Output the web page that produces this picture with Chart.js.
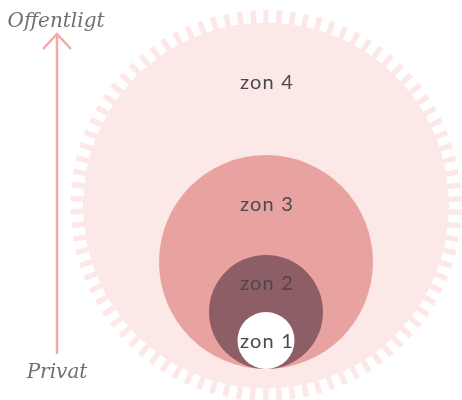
<!DOCTYPE html>
<html>
<head>
<meta charset="utf-8">
<script src="https://cdn.jsdelivr.net/npm/chart.js@4/dist/chart.umd.min.js"></script>
<style>
  html, body { margin: 0; padding: 0; background: #fff; }
  #zones { display: block; }
</style>
</head>
<body>
<canvas id="zones" width="462" height="400"></canvas>
<script>
// --- data: zoner, från yttersta till innersta ---
const zoneLabels = ["zon 4", "zon 3", "zon 2", "zon 1"];
const zoneRadius = [183, 107, 57, 28.5];      // radie i skalenheter
const zoneCenterY = [163.5, 107, 57, 28.5];   // mittpunkt (höjd över baslinjen)
const zoneCenterX = [0, 0, 0, 0];
const axisLabels = ["Privat", "Offentligt"];   // botten -> topp

const ZONE_COLORS = ["#fde8e8", "#e8a3a1", "#8e5e66", "#ffffff"];
const TICK_COLOR = "#fde8e8";
const ARROW_COLOR = "#f5aaa5";
const LABEL_COLOR = "#4a4a4a";
const AXIS_TEXT = "#707070";
const RING_W = 13;

// radie i pixlar via x-skalan
function pxRadius(chart, r) {
  const s = chart.scales.x;
  return Math.abs(s.getPixelForValue(r) - s.getPixelForValue(0));
}

// tickring runt zon 4 + etiketter + pil
const zoneDecorPlugin = {
  id: "zoneDecor",
  afterDatasetsDraw(chart) {
    const { ctx, scales } = chart;
    const cx = scales.x.getPixelForValue(zoneCenterX[0]);
    const cy = scales.y.getPixelForValue(zoneCenterY[0]);
    const r0 = pxRadius(chart, zoneRadius[0]);

    // --- tickring ---
    const ringR = r0 + RING_W / 2 - 0.5;
    const n = 90;
    const period = (2 * Math.PI * ringR) / n;
    ctx.save();
    ctx.strokeStyle = TICK_COLOR;
    ctx.lineWidth = RING_W;
    ctx.setLineDash([5.5, period - 5.5]);
    ctx.beginPath();
    ctx.arc(cx, cy, ringR, -Math.PI / 2 - (2.75 / ringR), 1.5 * Math.PI);
    ctx.stroke();
    ctx.restore();

    // --- zonetiketter (mitt emellan zonens topp och nästa inre zons topp) ---
    ctx.save();
    ctx.textAlign = "center";
    ctx.textBaseline = "middle";
    ctx.fillStyle = LABEL_COLOR;
    ctx.font = "20px Lato, 'Noto Sans', sans-serif";
    ctx.letterSpacing = "1.2px";
    zoneLabels.forEach((label, i) => {
      const x = scales.x.getPixelForValue(zoneCenterX[i]) + 1;
      let top = scales.y.getPixelForValue(zoneCenterY[i] + zoneRadius[i]);
      if (i === 0) top -= RING_W; // yttersta zonen inkl. tickring
      let y;
      if (i < zoneLabels.length - 1) {
        const innerTop = scales.y.getPixelForValue(zoneCenterY[i + 1] + zoneRadius[i + 1]);
        y = (top + innerTop) / 2;
      } else {
        y = scales.y.getPixelForValue(zoneCenterY[i]) + 1;
      }
      ctx.fillText(label, x, y);
    });
    ctx.restore();

    // --- pil Privat -> Offentligt ---
    const ax = 57;
    const yTop = 34, yBot = 354;
    ctx.save();
    ctx.strokeStyle = ARROW_COLOR;
    ctx.lineWidth = 2.5;
    ctx.beginPath();
    ctx.moveTo(ax, yBot);
    ctx.lineTo(ax, yTop + 1);
    ctx.moveTo(ax - 14, yTop + 15);
    ctx.lineTo(ax, yTop);
    ctx.lineTo(ax + 14, yTop + 15);
    ctx.stroke();

    ctx.fillStyle = AXIS_TEXT;
    ctx.textAlign = "center";
    ctx.textBaseline = "alphabetic";
    ctx.font = "italic 20px 'DejaVu Serif', serif";
    ctx.fillText(axisLabels[1], ax - 1, 27);
    ctx.fillText(axisLabels[0], ax, 378);
    ctx.restore();
  },
};

const points = zoneLabels.map((_, i) => ({ x: zoneCenterX[i], y: zoneCenterY[i] }));

new Chart(document.getElementById("zones"), {
  type: "scatter",
  data: {
    labels: zoneLabels,
    datasets: [
      {
        data: points,
        backgroundColor: ZONE_COLORS,
        borderWidth: 0,
        pointRadius: (c) => pxRadius(c.chart, zoneRadius[c.dataIndex]),
        pointHoverRadius: (c) => pxRadius(c.chart, zoneRadius[c.dataIndex]),
        clip: false,
      },
    ],
  },
  options: {
    responsive: false,
    animation: false,
    events: [],
    layout: { padding: 0 },
    scales: {
      x: { type: "linear", display: false, min: -266, max: 196 },
      y: { type: "linear", display: false, min: -31, max: 369 },
    },
    plugins: {
      legend: { display: false },
      tooltip: { enabled: false },
    },
  },
  plugins: [zoneDecorPlugin],
});
</script>
</body>
</html>
